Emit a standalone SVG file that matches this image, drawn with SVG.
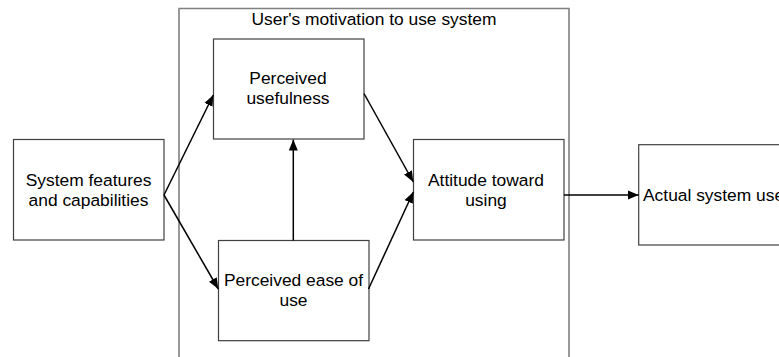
<svg xmlns="http://www.w3.org/2000/svg" width="779" height="357" viewBox="0 0 779 357">
  <style>
    .box { fill: #ffffff; stroke: #404040; stroke-width: 1.2; }
    .frame { fill: none; stroke: #808080; stroke-width: 1.6; }
    .label { font-family: "Liberation Sans", Arial, sans-serif; font-size: 17.4px; fill: #000000; text-anchor: middle; }
    .link { fill: none; stroke: #000000; stroke-width: 1.5; marker-end: url(#arrow); }
  </style>
  <defs>
    <marker id="arrow" viewBox="0 0 11 10" refX="11" refY="5" markerWidth="11" markerHeight="10" markerUnits="userSpaceOnUse" orient="auto">
      <path d="M0,0.5 L11,5 L0,9.5 Z" fill="#000000"/>
    </marker>
  </defs>
  <rect width="779" height="357" fill="#ffffff"/>

  <!-- motivation container -->
  <g id="motivation">
    <path class="frame" d="M179,360 V8.5 H569 V360"/>
    <text class="label" x="374" y="24.5">User's motivation to use system</text>
  </g>

  <g id="features">
    <rect class="box" x="13.5" y="139.5" width="150.5" height="100.5"/>
    <text class="label" x="88.5" y="186">System features</text>
    <text class="label" x="88.5" y="206">and capabilities</text>
  </g>

  <g id="usefulness">
    <rect class="box" x="213.5" y="39" width="150.5" height="100"/>
    <text class="label" x="288" y="84">Perceived</text>
    <text class="label" x="288" y="104">usefulness</text>
  </g>

  <g id="ease">
    <rect class="box" x="218.5" y="240.5" width="150.5" height="100.2"/>
    <text class="label" x="293.5" y="286">Perceived ease of</text>
    <text class="label" x="293.5" y="306">use</text>
  </g>

  <g id="attitude">
    <rect class="box" x="413.5" y="139.5" width="150.5" height="100.5"/>
    <text class="label" x="486" y="185.5">Attitude toward</text>
    <text class="label" x="486" y="205.5">using</text>
  </g>

  <g id="actual">
    <rect class="box" x="638.7" y="144.7" width="160" height="100.3"/>
    <text class="label" x="643" y="200.7" style="text-anchor:start">Actual system use</text>
  </g>

  <g id="connectors">
    <path class="link" d="M164,195 L213.3,95"/>
    <path class="link" d="M164,195 L218.3,289"/>
    <path class="link" d="M293.3,240.5 L293.3,139.5"/>
    <path class="link" d="M364,93.5 L413.3,182"/>
    <path class="link" d="M368.5,289 L413.3,192"/>
    <path class="link" d="M564,195 L638.7,195"/>
  </g>
</svg>
